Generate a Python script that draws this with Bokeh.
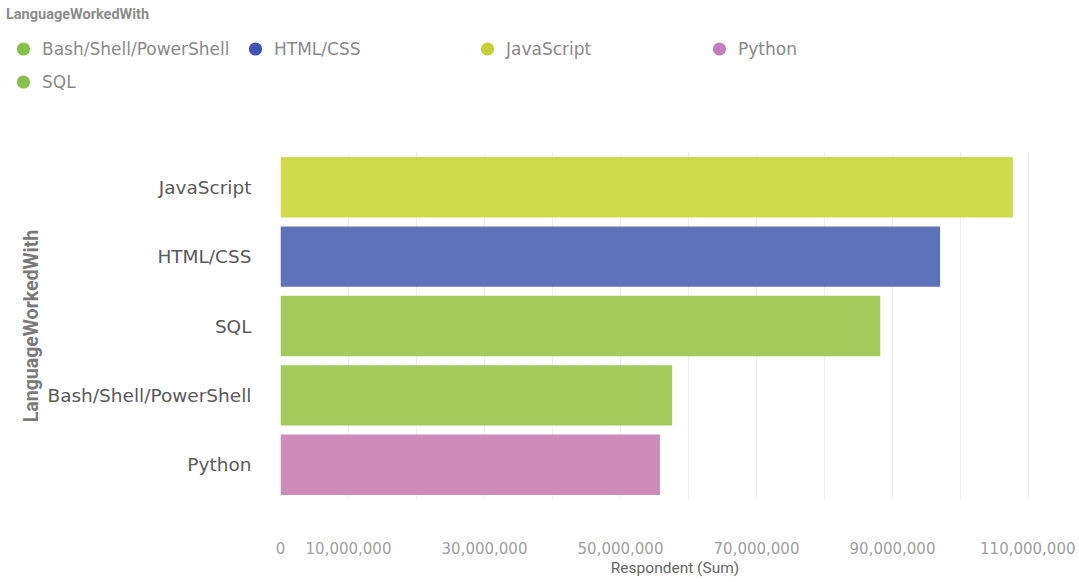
from bokeh.plotting import figure
from bokeh.layouts import column
from bokeh.models import (FactorRange, Range1d, FixedTicker, NumeralTickFormatter,
                          Legend, LegendItem, ColumnDataSource)
from bokeh.embed import file_html
from bokeh.resources import INLINE

# ---- data ----
languages = ["JavaScript", "HTML/CSS", "SQL", "Bash/Shell/PowerShell", "Python"]
respondents = [107_700_000, 97_000_000, 88_200_000, 57_600_000, 55_800_000]
bar_colors = ["#CEDB4A", "#5E72B8", "#A3CB5B", "#A3CB5B", "#CD8BBA"]

legend_labels = ["Bash/Shell/PowerShell", "HTML/CSS", "JavaScript", "Python", "SQL"]
legend_colors = ["#86C24A", "#3F53B2", "#C5CF38", "#C47EBE", "#86C24A"]

x_tick_values = [0, 10_000_000, 30_000_000, 50_000_000, 70_000_000, 90_000_000, 110_000_000]
x_grid_values = [0, 10_000_000, 20_000_000, 30_000_000, 40_000_000, 50_000_000,
                 60_000_000, 70_000_000, 80_000_000, 90_000_000, 100_000_000, 110_000_000]

W = 1075
LEG_H = 100
MAIN_H = 479

# ---- legend strip (its own small figure, frame fills it) ----
lf = figure(width=W, height=LEG_H, x_range=Range1d(0, 1), y_range=Range1d(0, 1),
            x_axis_type=None, y_axis_type=None, output_backend="svg",
            toolbar_location=None, min_border=0, frame_align=False)
lf.outline_line_color = None
lf.xgrid.grid_line_color = None
lf.ygrid.grid_line_color = None

lang_value = dict(zip(languages, respondents))
items = []
for lab, col in zip(legend_labels, legend_colors):
    # the point lies far outside this strip's 0..1 ranges: only its legend glyph shows
    src = ColumnDataSource(dict(v=[lang_value[lab]]))
    r = lf.scatter(x="v", y="v", source=src, marker="circle", size=14,
                   fill_color=col, line_color=None)
    items.append(LegendItem(label=lab, renderers=[r]))

legend = Legend(items=items, location="top_left", orientation="horizontal", ncols=4,
                title="LanguageWorkedWith", title_text_font="Roboto",
                title_text_font_style="bold", title_text_font_size="14.5px",
                title_text_color="#8C8C8C", title_standoff=9,
                label_text_font="DejaVu Sans", label_text_font_size="17px",
                label_text_color="#8A8A8A", label_width=196, label_standoff=2,
                glyph_width=34, glyph_height=33, spacing=0, padding=0, margin=6,
                border_line_color=None, background_fill_alpha=0)
lf.add_layout(legend)

# ---- main chart ----
source = ColumnDataSource(dict(lang=languages, val=respondents, color=bar_colors))

p = figure(width=W, height=MAIN_H,
           y_range=FactorRange(factors=list(reversed(languages))),
           x_range=Range1d(0, 116_030_000),
           output_backend="svg", toolbar_location=None, frame_align=False,
           min_border_left=280, min_border_right=6,
           min_border_top=52, min_border_bottom=74)
p.outline_line_color = None
p.background_fill_color = "white"

p.hbar(y="lang", right="val", left=0, height=0.87, fill_color="color",
       line_color=None, source=source)

# grid
p.ygrid.grid_line_color = None
p.xgrid.ticker = FixedTicker(ticks=x_grid_values)
p.xgrid.grid_line_color = "#EFEFEF"
p.xgrid.grid_line_width = 1

# x axis
xa = p.xaxis[0]
xa.ticker = FixedTicker(ticks=x_tick_values)
xa.formatter = NumeralTickFormatter(format="0,0")
xa.axis_line_color = None
xa.major_tick_line_color = None
xa.minor_tick_line_color = None
xa.major_label_standoff = 36
xa.major_label_text_font = "DejaVu Sans"
xa.major_label_text_font_size = "15px"
xa.major_label_text_color = "#A0A0A0"
xa.axis_label = "Respondent (Sum)"
xa.axis_label_text_font = "Roboto"
xa.axis_label_text_font_style = "normal"
xa.axis_label_text_font_size = "15.5px"
xa.axis_label_text_color = "#666666"
xa.axis_label_standoff = 2

# y axis
ya = p.yaxis[0]
ya.axis_line_color = None
ya.major_tick_line_color = None
ya.minor_tick_line_color = None
ya.major_label_standoff = 23
ya.major_label_text_font = "DejaVu Sans"
ya.major_label_text_font_size = "18.5px"
ya.major_label_text_color = "#5A5A5A"
ya.axis_label = "LanguageWorkedWith"
ya.axis_label_text_font = "Roboto"
ya.axis_label_text_font_style = "bold"
ya.axis_label_text_font_size = "19.5px"
ya.axis_label_text_color = "#7A7A7A"
ya.axis_label_standoff = 1

layout = column(lf, p, spacing=0)
open("out.html", "w").write(file_html(layout, INLINE))
